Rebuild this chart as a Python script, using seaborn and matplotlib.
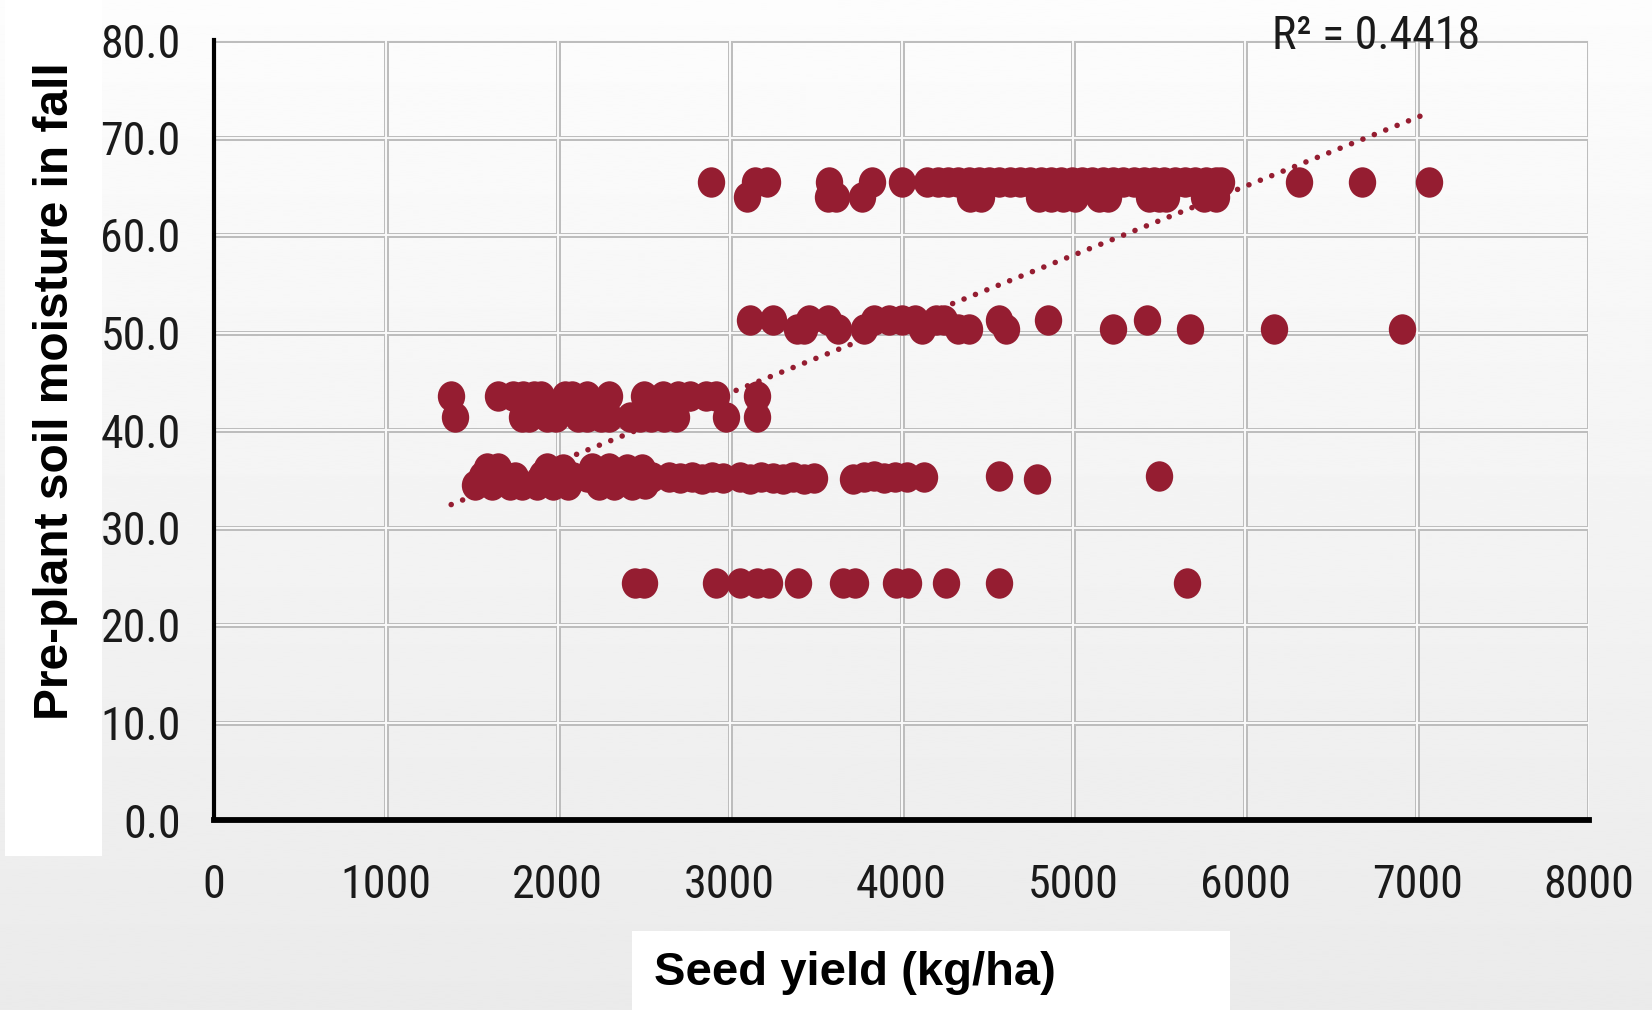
import os
import numpy as np
import pandas as pd
import matplotlib
matplotlib.use("Agg")
import matplotlib.pyplot as plt
from matplotlib import font_manager as fm
from matplotlib.path import Path
from matplotlib.transforms import Affine2D
from matplotlib.patches import Rectangle
import seaborn as sns

# ---- data: seed yield (kg/ha) at each pre-plant fall soil moisture level ----
yield_65_hi = [2890, 3150, 3220, 3580, 3830, 4000, 4150, 4210, 4270, 4330, 4390,
               4450, 4510, 4570, 4630, 4690, 4750, 4810, 4870, 4930, 4990, 5050,
               5110, 5170, 5230, 5290, 5350, 5410, 5470, 5530, 5590, 5650, 5710,
               5770, 5830, 5860, 6310, 6680, 7070]
yield_65_lo = [3100, 3570, 3620, 3770, 4400, 4460, 4800, 4870, 4940, 5010, 5150,
               5200, 5440, 5500, 5540, 5760, 5830]
yield_51_hi = [3120, 3250, 3460, 3570, 3840, 3930, 4000, 4080, 4200, 4250, 4570,
               4850, 5430]
yield_50_lo = [3390, 3430, 3630, 3780, 4120, 4330, 4390, 4610, 5230, 5680, 6170, 6910]
yield_43_hi = [1380, 1650, 1740, 1800, 1860, 1900, 2040, 2080, 2170, 2300, 2500,
               2610, 2700, 2770, 2860, 2920, 3160]
yield_41_lo = [1400, 1790, 1830, 1940, 1990, 2120, 2170, 2250, 2300, 2420, 2480,
               2540, 2620, 2690, 2980, 3160]
yield_35 = [1520, 1560, 1590, 1620, 1650, 1690, 1720, 1750, 1790,
            1880, 1910, 1940, 1970, 2000, 2030, 2060, 2090,
            2170, 2200, 2240, 2270, 2300, 2330, 2370, 2400, 2430, 2460, 2490, 2510, 2550,
            2650, 2710, 2780, 2840, 2900, 2960, 3060, 3120, 3180, 3250, 3310, 3370,
            3430, 3490, 3720, 3780, 3840, 3900, 3960, 4030, 4130, 4570, 4790, 5500]
moist_35 = [34.4, 35.3, 36.1, 34.4, 36.1, 35.3, 34.4, 35.2, 34.4,
            34.4, 35.4, 36.1, 34.4, 35.4, 36.0, 34.4, 35.2,
            35.2, 36.1, 34.4, 35.4, 36.1, 34.4, 35.4, 36.0, 34.4, 35.3, 36.0, 34.5, 35.2,
            35.2, 35.1, 35.2, 35.0, 35.2, 35.1, 35.2, 35.0, 35.2, 35.1, 35.0, 35.2,
            35.0, 35.1, 35.0, 35.2, 35.3, 35.1, 35.2, 35.2, 35.2, 35.3, 35.0, 35.3]
yield_24 = [2450, 2500, 2920, 3060, 3160, 3230, 3400, 3660, 3730, 3970, 4040,
            4260, 4570, 5660]

level_65_hi, level_65_lo = 65.4, 63.9
level_51_hi, level_50_lo = 51.3, 50.4
level_43_hi, level_41_lo = 43.5, 41.3
level_24 = 24.35

# linear trend (Excel-style) and its coefficient of determination
trend_intercept = 22.6
trend_slope = 0.007066
r_squared = 0.4418

x_ticks = [0, 1000, 2000, 3000, 4000, 5000, 6000, 7000, 8000]
y_ticks = [0, 10, 20, 30, 40, 50, 60, 70, 80]

xs, ys = [], []
for vals, lvl in [(yield_65_hi, level_65_hi), (yield_65_lo, level_65_lo),
                  (yield_51_hi, level_51_hi), (yield_50_lo, level_50_lo),
                  (yield_43_hi, level_43_hi), (yield_41_lo, level_41_lo),
                  (yield_24, level_24)]:
    xs += vals
    ys += [lvl] * len(vals)
xs += yield_35
ys += moist_35
df = pd.DataFrame({"Seed yield (kg/ha)": xs, "Soil moisture": ys})

# ---- style ----
sns.set_style("white")
plt.rcParams["font.family"] = ["Liberation Sans", "DejaVu Sans"]


def narrow_font():
    """Pick a condensed sans face for the numbers, if one is installed."""
    wanted = ["LiberationSansNarrow-Regular", "RobotoCondensed-Regular",
              "DejaVuSansCondensed.ttf", "NotoSans-Condensed.ttf",
              "NotoSans-CondensedRegular", "OpenSans-CondRegular",
              "OpenSans_Condensed-Regular", "Roboto_Condensed-Regular"]
    files = [f.fname for f in fm.fontManager.ttflist]
    for key in wanted:
        for path in files:
            if key.lower() in os.path.basename(path).lower():
                return fm.FontProperties(fname=path), True
    for f in fm.fontManager.ttflist:
        if f.stretch in ("condensed", "semi-condensed") and f.weight in (400, "normal", "regular"):
            return fm.FontProperties(fname=f.fname), True
    return fm.FontProperties(family="Liberation Sans"), False


num_fp, is_narrow = narrow_font()
num_size = 33 if is_narrow else 27
num_fp.set_size(num_size)

RED = "#951d31"
fig = plt.figure(figsize=(16.52, 10.10), dpi=100)

# soft vertical gradient behind everything
bg = fig.add_axes([0, 0, 1, 1], zorder=-10)
grad = np.linspace(0.99, 0.92, 512).reshape(-1, 1)
bg.imshow(grad, aspect="auto", cmap="gray", vmin=0, vmax=1,
          extent=[0, 1, 0, 1], interpolation="bilinear")
bg.axis("off")

# white panels behind the axis titles
fig.add_artist(Rectangle((5 / 1652, 154 / 1010), 97 / 1652, 856 / 1010,
                         transform=fig.transFigure, facecolor="white",
                         edgecolor="none", zorder=-5))
fig.add_artist(Rectangle((632 / 1652, 0), 598 / 1652, 79 / 1010,
                         transform=fig.transFigure, facecolor="white",
                         edgecolor="none", zorder=-5))

ax = fig.add_axes([214 / 1652, 190 / 1010, 1375 / 1652, 780 / 1010])
ax.set_facecolor("none")
ax.set_xlim(0, 8000)
ax.set_ylim(0, 80)

# bevelled grid: grey outer line with a pale core
for xv in x_ticks[1:]:
    ax.axvline(xv, color="#bdbdbd", lw=3.6, zorder=0.5)
    ax.axvline(xv, color="#fafafa", lw=1.4, zorder=0.6)
for yv in y_ticks[1:]:
    ax.axhline(yv, color="#bdbdbd", lw=3.6, zorder=0.5)
    ax.axhline(yv, color="#fafafa", lw=1.4, zorder=0.6)

# slightly tall elliptical markers
ellipse = Path.unit_circle().transformed(Affine2D().scale(0.9, 1.0))
sns.scatterplot(data=df, x="Seed yield (kg/ha)", y="Soil moisture", ax=ax,
                color=RED, marker=ellipse, s=480, linewidth=0, zorder=3,
                legend=False)

x_lo, x_hi = min(xs), max(xs)
tx = np.array([x_lo, x_hi])
ax.plot(tx, trend_intercept + trend_slope * tx, color=RED, lw=4.0,
        linestyle=(0, (0.01, 2.2)), dash_capstyle="round", zorder=4)

ax.text(0.845, 1.005, f"R\u00b2 = {r_squared:.4f}", transform=ax.transAxes,
        ha="center", va="center", fontproperties=num_fp, color="#1a1a1a")

ax.set_xticks(x_ticks)
ax.set_xticklabels([f"{v:d}" for v in x_ticks])
ax.set_yticks(y_ticks)
ax.set_yticklabels([f"{v:.1f}" for v in y_ticks])
for lab in ax.get_xticklabels() + ax.get_yticklabels():
    lab.set_fontproperties(num_fp)
    lab.set_color("#1a1a1a")
ax.tick_params(axis="x", length=0, pad=31 if is_narrow else 34)
ax.tick_params(axis="y", length=0, pad=24)

ax.set_xlabel("Seed yield (kg/ha)", fontsize=34, fontweight="bold",
              color="black", va="center")
ax.xaxis.set_label_coords(0.466, -0.196)
ax.set_ylabel("Pre-plant soil moisture in fall", fontsize=34.5,
              fontweight="bold", color="black", va="center")
ax.yaxis.set_label_coords(-0.1156, 0.55)

for side in ("top", "right"):
    ax.spines[side].set_visible(False)
ax.spines["left"].set_linewidth(3.0)
ax.spines["left"].set_color("black")
ax.spines["bottom"].set_linewidth(4.2)
ax.spines["bottom"].set_color("black")
ax.spines["left"].set_zorder(5)
ax.spines["bottom"].set_zorder(5)

fig.savefig("out.png", dpi=100)
